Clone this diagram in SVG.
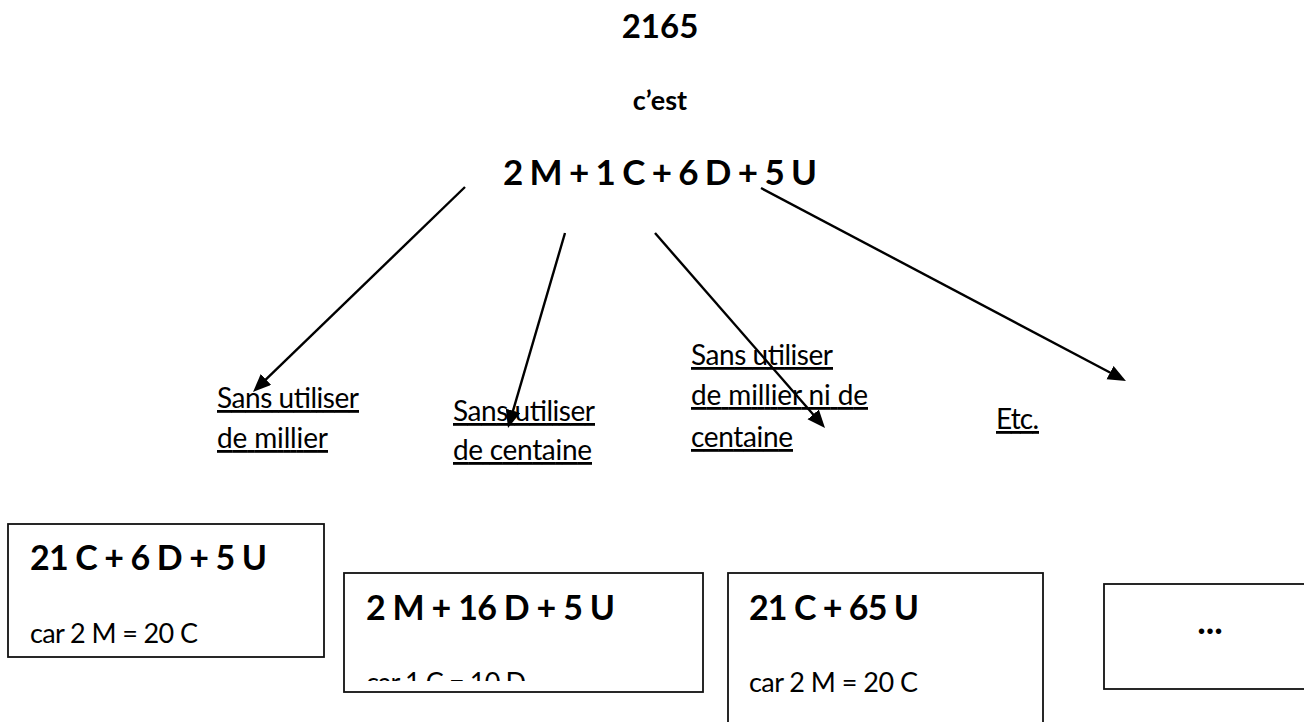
<svg xmlns="http://www.w3.org/2000/svg" width="1304" height="722" viewBox="0 0 1304 722">
<style>
text{font-family:Lato,"Open Sans","Liberation Sans",sans-serif;fill:#000}
.b{font-weight:bold}
.t{font-size:35px}
.h{font-size:34px}
.l{font-size:28px;text-decoration:underline}
.c{font-size:27px}
.box{fill:#fff;stroke:#111;stroke-width:1.8}
.con{stroke:#000;stroke-width:2.4;fill:none}
</style>
<defs>
<marker id="ah" markerUnits="userSpaceOnUse" markerWidth="20" markerHeight="16" refX="9" refY="7.5" orient="auto" viewBox="0 0 20 16">
<path d="M0,0 L18,7.5 L0,15 z" fill="#000"/>
</marker>
<clipPath id="clip2"><rect x="344" y="573" width="359" height="108"/></clipPath>
</defs>
<g id="title">
<text class="b" x="660" y="38" text-anchor="middle" style="font-size:33px">2165</text>
<text class="b" x="660" y="110" text-anchor="middle" style="font-size:27px">c’est</text>
<text class="b t" x="503" y="185" textLength="314">2 M + 1 C + 6 D + 5 U</text>
</g>
<g id="label1">
<text class="l" x="217" y="408" textLength="142">Sans utiliser</text>
<text class="l" x="217" y="448" textLength="111">de millier</text>
</g>
<g id="label2">
<text class="l" x="453" y="421" textLength="142">Sans utiliser</text>
<text class="l" x="453" y="460" textLength="139">de centaine</text>
</g>
<g id="label3">
<text class="l" x="691" y="365" textLength="142">Sans utiliser</text>
<text class="l" x="691" y="405" textLength="177">de millier ni de</text>
<text class="l" x="691" y="447" textLength="102">centaine</text>
</g>
<g id="label4">
<text class="l" x="996" y="429" textLength="43">Etc.</text>
</g>
<g id="connectors">
<line class="con" x1="465" y1="187" x2="259.5" y2="385.7" marker-end="url(#ah)"/>
<line class="con" x1="565" y1="233" x2="510.5" y2="419.4" marker-end="url(#ah)"/>
<line class="con" x1="655" y1="233" x2="819.1" y2="421.2" marker-end="url(#ah)"/>
<line class="con" x1="761" y1="188" x2="1118" y2="376.8" marker-end="url(#ah)"/>
</g>
<g id="box1">
<rect class="box" x="8" y="524" width="316" height="133"/>
<text class="b h" x="30" y="570" textLength="237">21 C + 6 D + 5 U</text>
<text class="c" x="30" y="643" textLength="168">car 2 M = 20 C</text>
</g>
<g id="box2">
<rect class="box" x="344" y="573" width="359" height="119"/>
<text class="b h" x="366" y="620" textLength="249">2 M + 16 D + 5 U</text>
<text class="c" x="366" y="692" clip-path="url(#clip2)" textLength="160">car 1 C = 10 D</text>
</g>
<g id="box3">
<rect class="box" x="728" y="573" width="315" height="160"/>
<text class="b h" x="749" y="620" textLength="170">21 C + 65 U</text>
<text class="c" x="749" y="692" textLength="169">car 2 M = 20 C</text>
</g>
<g id="box4">
<rect class="box" x="1104" y="584" width="210" height="105"/>
<text class="b" x="1210" y="634" text-anchor="middle" style="font-size:36px">...</text>
</g>
</svg>
